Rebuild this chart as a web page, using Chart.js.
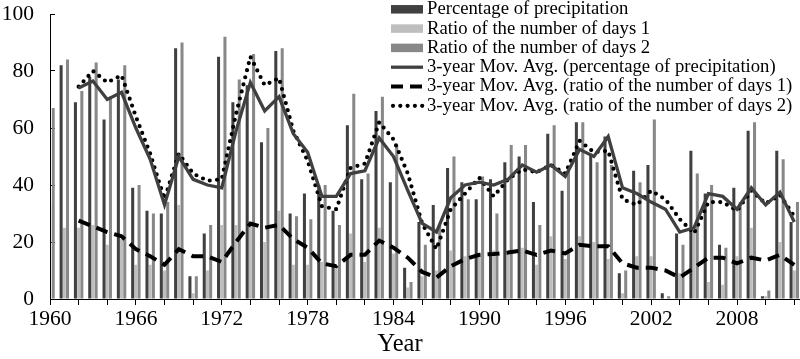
<!DOCTYPE html>
<html>
<head>
<meta charset="utf-8">
<script src="https://cdn.jsdelivr.net/npm/chart.js@4.4.0/dist/chart.umd.min.js"></script>
<style>
  html, body { margin: 0; padding: 0; background: #fff; }
  #wrap { width: 800px; height: 359px; }
</style>
</head>
<body>
<div id="wrap"><canvas id="chart"></canvas></div>
<script>
// years on the x axis
const years = [1960, 1961, 1962, 1963, 1964, 1965, 1966, 1967, 1968, 1969,
  1970, 1971, 1972, 1973, 1974, 1975, 1976, 1977, 1978, 1979,
  1980, 1981, 1982, 1983, 1984, 1985, 1986, 1987, 1988, 1989,
  1990, 1991, 1992, 1993, 1994, 1995, 1996, 1997, 1998, 1999,
  2000, 2001, 2002, 2003, 2004, 2005, 2006, 2007, 2008, 2009,
  2010, 2011, 2012];

// bars
const precipPct = [70, 82, 69, 78, 63, 77, 39, 31, 30, 88,
  8, 23, 85, 69, 75, 55, 87, 30, 37, 40,
  31, 61, 42, 66, 41, 11, 27, 33, 46, 41,
  35, 42, 48, 50, 34, 58, 38, 62, 51, 57,
  9, 45, 47, 2, 23, 52, 37, 19, 39, 59,
  1, 52, 27];
const daysRatio1 = [33, 25, 25, 26, 19, 21, 12, 12, 10, 33,
  2, 10, 26, 26, 27, 20, 31, 12, 12, 13,
  11, 23, 13, 25, 16, 4, 8, 10, 17, 15,
  15, 17, 16, 18, 12, 22, 14, 22, 20, 14,
  2, 15, 15, 0, 9, 24, 6, 5, 15, 25,
  1, 20, 10];
const daysRatio2 = [67, 84, 73, 83, 71, 82, 40, 30, 34, 90,
  8, 26, 92, 77, 86, 60, 88, 29, 28, 40,
  26, 72, 44, 71, 54, 6, 19, 26, 50, 35,
  43, 30, 54, 54, 26, 61, 45, 62, 48, 47,
  10, 41, 63, 1, 19, 44, 40, 18, 34, 62,
  3, 49, 34];

// 3-year moving average lines
const movPrecip = [null, null, 74, 76.5, 70, 72.5, 60, 49, 33, 50,
  42, 40, 39, 59, 76, 66, 71, 58, 51.5, 36,
  36, 44, 45, 56.5, 50, 38, 26.5, 23.5, 35.5, 40,
  41, 40, 42, 47, 44.5, 47, 43, 52.5, 50, 57,
  39, 37, 34, 31.5, 23.5, 25, 37, 36, 31.5, 39,
  33, 37.5, 27];
const movDays1 = [null, null, 27.5, 25.5, 23.5, 22, 17.5, 15, 12, 17.5,
  15, 15, 13, 20, 26.5, 25, 26, 21, 18, 12.5,
  11.5, 15.5, 15.5, 20.5, 18, 14.5, 9.5, 7.5, 11.5, 14,
  15.5, 15.8, 16.3, 17, 15.5, 17, 16, 19, 18.5, 18.5,
  12.5, 11, 11, 10, 7.5, 11, 14.5, 14.5, 12.5, 14.5,
  13.5, 15.5, 12];
const movDays2 = [null, null, 74.5, 80, 76, 78.5, 64, 51, 35, 51,
  44, 41.5, 42, 65, 85, 75, 77.5, 59, 48.5, 32.5,
  31.5, 46, 47.5, 62, 56, 44, 26.5, 17.5, 31.5, 37,
  42.5, 36, 42, 45.5, 44.5, 47, 44, 55.5, 51.5, 52,
  35, 33, 38, 35, 28, 23, 34, 34, 31, 38,
  33.5, 36.5, 29];

const serif = "'Liberation Serif', 'Times New Roman', serif";
Chart.defaults.font.family = serif;
Chart.defaults.color = '#000';

// one legend row per dataset, drawn top right inside the plot
const legendRows = {
  id: 'legendRows',
  afterDraw(chart) {
    const ctx = chart.ctx;
    ctx.save();
    ctx.font = '18.7px ' + serif;
    ctx.textBaseline = 'middle';
    chart.data.datasets.forEach((ds, i) => {
      const y = 9.3 + i * 19.3;
      const x0 = 391, x1 = 423;
      if (ds.type === 'line') {
        ctx.strokeStyle = ds.borderColor;
        ctx.lineWidth = ds.borderWidth;
        ctx.lineCap = ds.borderCapStyle || 'butt';
        ctx.setLineDash(ds.borderDash || []);
        ctx.beginPath();
        ctx.moveTo(x0 + (ds.borderCapStyle === 'round' ? 2 : 0), y);
        ctx.lineTo(x1, y);
        ctx.stroke();
        ctx.setLineDash([]);
      } else {
        ctx.fillStyle = ds.backgroundColor;
        ctx.fillRect(x0, y - 4.25, x1 - x0, 8.5);
      }
      ctx.fillStyle = '#000';
      ctx.fillText(ds.label, 427, y);
    });
    ctx.restore();
  }
};

// the 1960 bars left of the axis are cut off in the original
const barClip = { left: -1.5, top: false, right: false, bottom: false };

new Chart(document.getElementById('chart'), {
  type: 'bar',
  data: {
    labels: years,
    datasets: [
      { label: 'Percentage of precipitation', data: precipPct, backgroundColor: '#404040', order: 1, clip: barClip },
      { label: 'Ratio of the number of days 1', data: daysRatio1, backgroundColor: '#bebebe', order: 1, clip: barClip },
      { label: 'Ratio of the number of days 2', data: daysRatio2, backgroundColor: '#888888', order: 1, clip: barClip },
      { type: 'line', label: '3-year Mov. Avg. (percentage of precipitation)', data: movPrecip,
        borderColor: '#404040', borderWidth: 3.3, pointRadius: 0, tension: 0, order: 0 },
      { type: 'line', label: '3-year Mov. Avg. (ratio of the number of days 1)', data: movDays1,
        borderColor: '#000', borderWidth: 4, borderDash: [12, 7], pointRadius: 0, tension: 0, order: 0 },
      { type: 'line', label: '3-year Mov. Avg. (ratio of the number of days 2)', data: movDays2,
        borderColor: '#000', borderWidth: 4.2, borderDash: [0, 7.3], borderCapStyle: 'round', pointRadius: 0, tension: 0, order: 0 }
    ]
  },
  options: {
    responsive: true,
    maintainAspectRatio: false,
    animation: false,
    layout: { padding: { top: 14, left: 0, right: 0, bottom: 0 } },
    datasets: { bar: { categoryPercentage: 0.67, barPercentage: 0.95 } },
    plugins: {
      legend: { display: false },
      tooltip: { enabled: false },
      title: {
        display: true, text: 'Year', position: 'bottom',
        font: { size: 24.5, weight: 'normal' }, padding: { top: 0, bottom: 0 }
      }
    },
    scales: {
      x: {
        type: 'linear', min: 1960, max: 2012.4, offset: false,
        afterFit(s) { s.height = 30.6; s.paddingLeft = 0; s.paddingRight = 0; },
        grid: { drawOnChartArea: false, color: '#000', tickLength: 6, offset: false },
        border: { color: '#000', width: 1 },
        ticks: {
          stepSize: 2, includeBounds: false, autoSkip: false, maxRotation: 0, padding: 1,
          font: { size: 21.5 },
          callback: (v) => ((v - 1960) % 6 === 0 ? String(v) : '')
        }
      },
      y: {
        min: 0, max: 100,
        afterFit(s) { s.width = 50; s.paddingTop = 0; s.paddingBottom = 0; },
        grid: { drawOnChartArea: false, color: '#000', tickLength: -5 },
        border: { color: '#000', width: 1 },
        ticks: {
          stepSize: 10, padding: 21, font: { size: 21.5 },
          callback: (v) => (v % 20 === 0 ? String(v) : '')
        }
      }
    }
  },
  plugins: [legendRows]
});
</script>
</body>
</html>
